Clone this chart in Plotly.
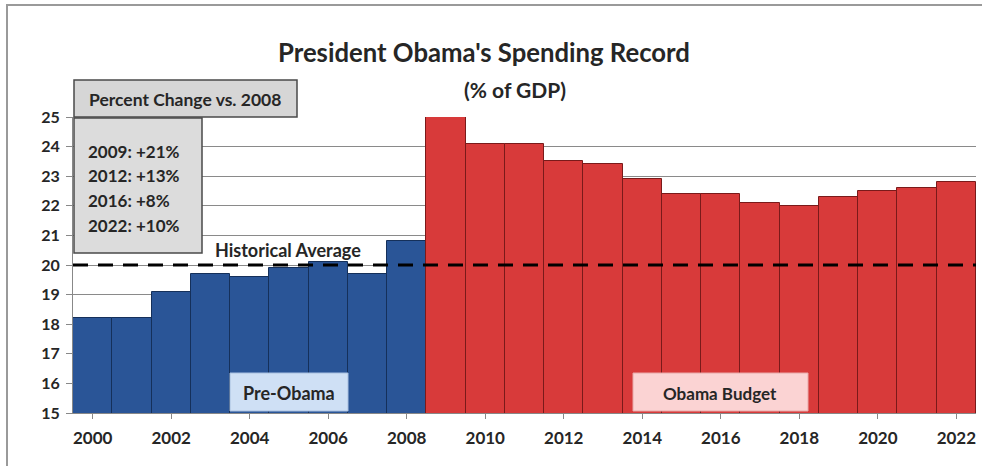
import plotly.graph_objects as go

years_pre = [2000, 2001, 2002, 2003, 2004, 2005, 2006, 2007, 2008]
spend_pre = [18.2, 18.2, 19.1, 19.7, 19.6, 19.9, 20.1, 19.7, 20.8]
years_obama = [2009, 2010, 2011, 2012, 2013, 2014, 2015, 2016, 2017, 2018, 2019, 2020, 2021, 2022]
spend_obama = [25.2, 24.1, 24.1, 23.5, 23.4, 22.9, 22.4, 22.4, 22.1, 22.0, 22.3, 22.5, 22.6, 22.8]
historical_avg = 20
x_ticks = list(range(2000, 2023, 2))
y_ticks = list(range(15, 26))
change_lines = ["2009: +21%", "2012: +13%", "2016: +8%", "2022: +10%"]

W, H = 982, 466
L, R, T, B = 73, 976, 117, 413

def px(x):
    return (x - L) / (R - L)

def py(y):
    return (B - y) / (B - T)

FONT = "Lato"
TXT = "#262626"

fig = go.Figure()
fig.add_trace(go.Bar(x=years_pre, y=spend_pre, marker=dict(color="#2a5597", line=dict(color="#15305a", width=1)),
                     width=1, showlegend=False))
fig.add_trace(go.Bar(x=years_obama, y=spend_obama, marker=dict(color="#d83a3a", line=dict(color="#7a1a1a", width=1)),
                     width=1, showlegend=False))

shapes = []
# outer frame
shapes.append(dict(type="line", xref="paper", yref="paper", x0=px(6), x1=px(990), y0=py(5), y1=py(5),
                   line=dict(color="#9a9a9a", width=2)))
shapes.append(dict(type="line", xref="paper", yref="paper", x0=px(7), x1=px(7), y0=py(5), y1=py(480),
                   line=dict(color="#9a9a9a", width=2)))
# historical average dashed line
shapes.append(dict(type="line", xref="paper", yref="y", x0=0, x1=1, y0=historical_avg, y1=historical_avg,
                   line=dict(color="black", width=3, dash="15px,10px"), layer="above"))
# percent change boxes
shapes.append(dict(type="rect", xref="paper", yref="paper", x0=px(74), x1=px(297), y0=py(80), y1=py(117),
                   fillcolor="#d6d6d6", line=dict(color="#4a4a4a", width=1.5), layer="above"))
shapes.append(dict(type="rect", xref="paper", yref="paper", x0=px(74), x1=px(202), y0=py(118), y1=py(253),
                   fillcolor="#dcdcdc", line=dict(color="#4a4a4a", width=1.5), layer="above"))
# pre-obama / obama budget boxes
shapes.append(dict(type="rect", xref="paper", yref="paper", x0=px(230), x1=px(348), y0=py(373), y1=py(411),
                   fillcolor="#cfe0f5", line=dict(color="#a8c0e0", width=1), layer="above"))
shapes.append(dict(type="rect", xref="paper", yref="paper", x0=px(633), x1=px(808), y0=py(373), y1=py(411),
                   fillcolor="#fbd3d3", line=dict(color="#e8a8a8", width=1), layer="above"))

annotations = []
annotations.append(dict(xref="paper", yref="paper", x=px(185), y=py(99), text="<b>Percent Change vs. 2008</b>",
                        showarrow=False, font=dict(family=FONT, size=17.5, color=TXT), xanchor="center", yanchor="middle"))
for i, s in enumerate(change_lines):
    annotations.append(dict(xref="paper", yref="paper", x=px(86), y=py(151 + i * 24.7), text="<b>" + s + "</b>",
                            showarrow=False, font=dict(family=FONT, size=17, color=TXT), xanchor="left", yanchor="middle"))
annotations.append(dict(xref="paper", yref="paper", x=px(288), y=py(250), text="<b>Historical Average</b>",
                        showarrow=False, font=dict(family=FONT, size=18, color=TXT), xanchor="center", yanchor="middle"))
annotations.append(dict(xref="paper", yref="paper", x=px(289), y=py(393), text="<b>Pre-Obama</b>",
                        showarrow=False, font=dict(family=FONT, size=18, color=TXT), xanchor="center", yanchor="middle"))
annotations.append(dict(xref="paper", yref="paper", x=px(720), y=py(393), text="<b>Obama Budget</b>",
                        showarrow=False, font=dict(family=FONT, size=17, color=TXT), xanchor="center", yanchor="middle"))
annotations.append(dict(xref="paper", yref="paper", x=px(484), y=py(52), text="<b>President Obama's Spending Record</b>",
                        showarrow=False, font=dict(family=FONT, size=25.7, color=TXT), xanchor="center", yanchor="middle"))
annotations.append(dict(xref="paper", yref="paper", x=px(515), y=py(89), text="<b>(% of GDP)</b>",
                        showarrow=False, font=dict(family=FONT, size=21, color=TXT), xanchor="center", yanchor="middle"))

fig.update_layout(
    width=W, height=H,
    margin=dict(l=L, r=W - R, t=T, b=H - B),
    paper_bgcolor="white", plot_bgcolor="white",
    bargap=0, barmode="overlay",
    shapes=shapes, annotations=annotations,
    xaxis=dict(range=[1999.5, 2022.5], tickvals=x_ticks, ticktext=["<b>%d</b>" % v for v in x_ticks],
               showgrid=False, zeroline=False, showline=True, linecolor="#888", linewidth=1,
               ticks="outside", ticklen=5, tickcolor="#888", ticklabelstandoff=5,
               tickfont=dict(family=FONT, size=17, color=TXT)),
    yaxis=dict(range=[15, 25], tickvals=y_ticks, ticktext=["<b>%d</b>" % v for v in y_ticks],
               showgrid=True, gridcolor="#8a8a8a", gridwidth=1, zeroline=False, showline=True, linecolor="#888",
               linewidth=1, ticks="outside", ticklen=6, tickcolor="#888", ticklabelstandoff=3,
               tickfont=dict(family=FONT, size=16, color=TXT)),
)

fig.write_html("out.html", config={"displayModeBar": False}, post_script="document.body.style.margin='0';")
